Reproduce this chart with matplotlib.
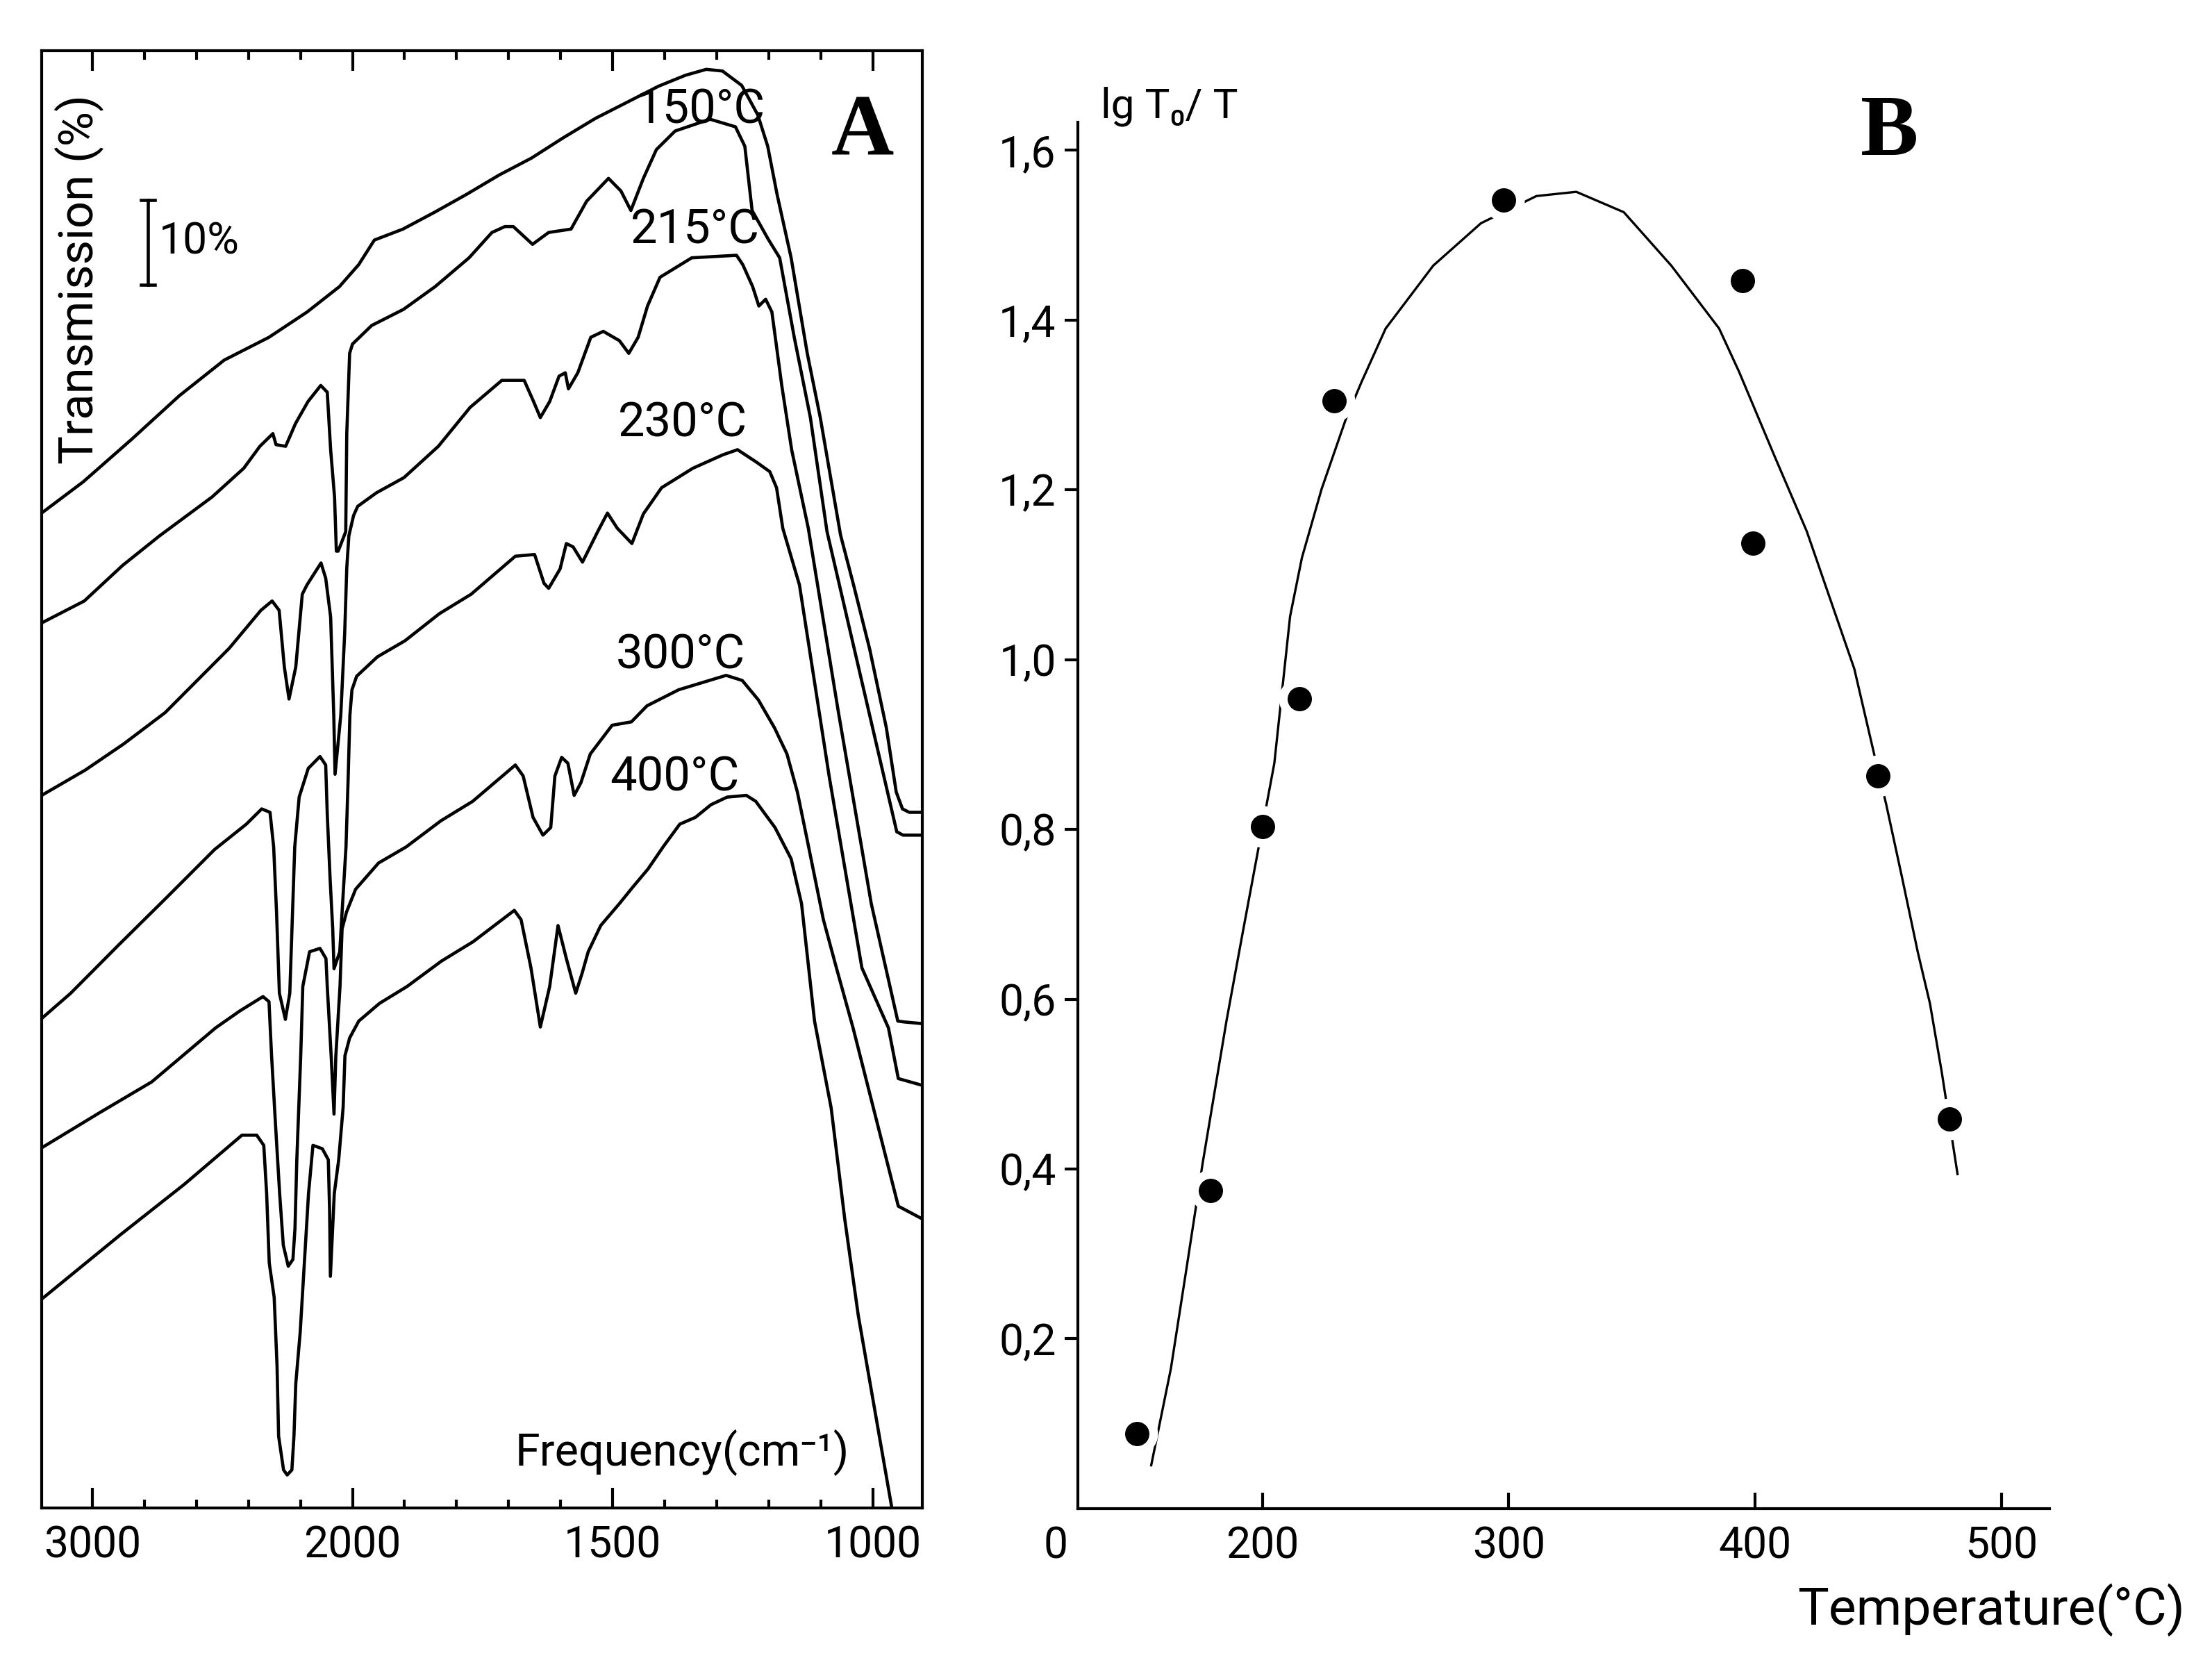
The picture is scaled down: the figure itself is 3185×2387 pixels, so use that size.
import numpy as np
import matplotlib
matplotlib.use("Agg")
import matplotlib.pyplot as plt
from matplotlib.ticker import FixedLocator, FuncFormatter

# ---------------- Panel A: IR spectra (wavenumber cm-1, transmission % incl. offsets) ----------------
nu_ref = [3195, 3035, 2850, 2665, 2493, 2321, 2174, 2050, 1988, 1958, 1903, 1842, 1781, 1718,
          1656, 1595, 1533, 1466, 1412, 1360, 1320, 1289, 1252, 1221, 1202, 1184, 1157, 1126,
          1101, 1062, 1037, 1006, 974, 955, 943, 930, 905]
tr_ref = [117.7, 121.4, 126.4, 131.6, 135.8, 138.5, 141.5, 144.5, 147.1, 150.0, 151.3, 153.3,
          155.4, 157.7, 159.7, 162.1, 164.4, 166.5, 168.2, 169.5, 170.2, 170.0, 168.3, 164.8,
          161.1, 155.4, 147.9, 136.6, 129.0, 115.1, 109.2, 101.6, 92.3, 84.7, 82.7, 82.3, 82.3]

nu_150 = [3195, 3031, 2884, 2742, 2540, 2418, 2356, 2306, 2294, 2257, 2219, 2171, 2122, 2097,
          2084, 2069, 2062, 2055, 2026, 2022, 2011, 2000, 1963, 1902, 1841, 1776, 1732, 1707,
          1691, 1654, 1623, 1580, 1550, 1508, 1484, 1465, 1441, 1416, 1380, 1313, 1264, 1246,
          1232, 1201, 1179, 1151, 1120, 1088, 954, 942, 905]
tr_150 = [104.7, 107.3, 111.5, 115.0, 119.6, 123.0, 125.6, 127.1, 125.8, 125.6, 128.3, 130.9,
          132.8, 132.0, 125.2, 119.6, 113.2, 113.2, 115.5, 127.1, 136.6, 137.7, 139.9, 141.8,
          144.5, 147.9, 150.9, 151.6, 151.6, 149.5, 150.9, 151.3, 154.6, 157.3, 155.8, 153.5,
          157.3, 160.7, 162.9, 164.3, 163.4, 161.1, 153.5, 150.1, 147.9, 138.5, 129.0, 115.5,
          80.0, 79.6, 79.6]

nu_215 = [3195, 3027, 2879, 2720, 2597, 2474, 2352, 2309, 2282, 2262, 2244, 2218, 2193, 2175,
          2121, 2103, 2084, 2072, 2067, 2045, 2030, 2022, 2014, 1998, 1990, 1954, 1901, 1835,
          1774, 1713, 1670, 1652, 1639, 1621, 1603, 1591, 1585, 1567, 1542, 1518, 1487, 1469,
          1451, 1433, 1409, 1348, 1262, 1250, 1231, 1219, 1206, 1194, 1175, 1156, 1124, 1066,
          1003, 952, 940, 905]
tr_215 = [84.3, 87.3, 90.4, 94.1, 97.9, 101.7, 106.2, 107.3, 106.2, 99.5, 95.7, 99.5, 108.1,
          109.2, 111.8, 110.0, 105.4, 93.8, 86.8, 93.8, 103.5, 111.2, 115.0, 117.4, 118.5,
          120.1, 121.9, 125.6, 130.2, 133.4, 133.4, 130.9, 129.0, 130.9, 133.9, 134.3, 132.4,
          134.3, 138.5, 139.2, 138.1, 136.6, 138.5, 142.2, 145.6, 147.9, 148.2, 147.1, 144.5,
          142.2, 143.0, 141.5, 132.8, 125.2, 115.9, 94.1, 71.5, 57.6, 57.5, 57.3]

nu_230 = [3195, 3083, 2899, 2715, 2530, 2408, 2349, 2317, 2303, 2292, 2281, 2258, 2241, 2222,
          2205, 2170, 2125, 2103, 2097, 2086, 2076, 2071, 2049, 2040, 2025, 2017, 2010, 2002,
          1992, 1952, 1899, 1833, 1772, 1687, 1650, 1632, 1623, 1601, 1589, 1576, 1558, 1528,
          1510, 1491, 1463, 1441, 1406, 1346, 1288, 1260, 1223, 1198, 1185, 1173, 1141, 1084,
          1021, 970, 951, 905]
tr_230 = [57.9, 60.9, 66.6, 72.2, 77.9, 80.9, 82.7, 82.3, 78.2, 70.5, 60.9, 57.8, 60.9, 78.2,
          84.1, 87.5, 88.9, 87.9, 82.1, 74.4, 68.5, 63.8, 65.8, 70.5, 78.2, 86.0, 93.8, 96.8,
          98.4, 100.7, 102.6, 105.8, 108.1, 112.6, 112.8, 109.4, 108.8, 111.1, 114.1, 113.7,
          111.9, 115.6, 117.7, 115.9, 114.1, 117.6, 120.7, 123.0, 124.6, 125.2, 123.7, 122.6,
          120.7, 115.9, 109.2, 86.6, 63.9, 56.8, 50.8, 50.0]

nu_300 = [3195, 2970, 2772, 2526, 2433, 2344, 2321, 2311, 2296, 2280, 2266, 2247, 2229, 2221,
          2214, 2199, 2191, 2165, 2125, 2102, 2097, 2082, 2071, 2064, 2048, 2040, 2023, 1994,
          1950, 1897, 1830, 1769, 1687, 1672, 1653, 1634, 1619, 1611, 1598, 1586, 1574, 1561,
          1543, 1501, 1464, 1434, 1373, 1282, 1251, 1220, 1189, 1165, 1145, 1126, 1095, 1070,
          1038, 951, 905]
tr_300 = [42.6, 46.8, 50.4, 56.8, 58.8, 60.5, 59.9, 53.5, 45.4, 37.2, 31.1, 28.6, 29.4, 33.1,
          41.2, 53.5, 61.7, 65.8, 66.2, 65.0, 61.7, 53.5, 46.6, 53.5, 61.7, 68.5, 70.5, 73.2,
          76.3, 78.2, 81.3, 83.6, 87.9, 86.6, 81.7, 79.6, 80.5, 86.6, 88.8, 88.1, 84.3, 85.8,
          89.2, 92.6, 93.0, 94.9, 96.8, 98.5, 97.9, 95.6, 92.3, 89.2, 84.7, 79.0, 69.6, 63.9,
          56.8, 35.7, 34.2]

nu_400 = [3195, 2893, 2646, 2425, 2368, 2341, 2330, 2320, 2301, 2290, 2284, 2265, 2251, 2233,
          2225, 2218, 2201, 2185, 2169, 2152, 2116, 2093, 2088, 2085, 2070, 2053, 2036, 2029,
          2011, 1988, 1948, 1895, 1829, 1768, 1689, 1676, 1657, 1639, 1621, 1605, 1589, 1571,
          1559, 1547, 1523, 1487, 1462, 1432, 1402, 1371, 1341, 1311, 1280, 1243, 1225, 1188,
          1157, 1137, 1112, 1080, 1054, 1028, 996, 964]
tr_400 = [24.7, 32.3, 38.3, 44.1, 44.1, 42.9, 37.2, 29.0, 24.9, 16.8, 8.5, 4.5, 3.9, 4.5, 8.5,
          14.7, 20.8, 29.0, 37.2, 42.9, 42.5, 41.2, 35.2, 27.4, 37.2, 41.2, 47.4, 53.5, 55.6,
          57.6, 59.7, 61.7, 64.7, 67.0, 70.7, 69.6, 63.9, 56.9, 61.7, 68.9, 65.0, 60.9, 63.2,
          65.8, 68.9, 71.5, 73.4, 75.6, 78.3, 80.9, 81.7, 83.2, 84.1, 84.3, 83.6, 80.5, 76.8,
          71.5, 57.6, 47.3, 34.2, 22.8, 11.5, 0.2]

spectra_labels = ["150°C", "215°C", "230°C", "300°C", "400°C"]
label_nu = [1331, 1342, 1365, 1370, 1381]
label_tr = [165.4, 151.2, 128.3, 100.9, 86.4]

freq_major = [3000, 2000, 1500, 1000]
freq_minor = [2800, 2600, 2400, 2200, 1900, 1800, 1700, 1600, 1400, 1300, 1200, 1100]

# ---------------- Panel B: lg T0/T versus temperature ----------------
temp_pts = [149, 179, 200, 215, 229, 298, 395, 399, 450, 479]
lg_pts = [0.088, 0.375, 0.803, 0.954, 1.305, 1.541, 1.446, 1.137, 0.863, 0.459]

temp_curve = [154.8, 162.8, 169.3, 175.7, 185.4, 191.8, 198.3, 204.8, 211.2, 216, 224, 233.8,
              240.2, 250, 269.3, 288.7, 311.2, 327.4, 346.7, 366, 385.4, 393.5, 408, 421,
              440.3, 448.4, 453.2, 459.7, 466.1, 471, 475.8, 482.2]
lg_curve = [0.051, 0.165, 0.286, 0.407, 0.575, 0.676, 0.777, 0.878, 1.051, 1.12, 1.201, 1.283,
            1.327, 1.39, 1.464, 1.514, 1.546, 1.551, 1.527, 1.464, 1.39, 1.339, 1.239, 1.151,
            0.989, 0.888, 0.830, 0.743, 0.655, 0.595, 0.514, 0.394]

temp_ticks = [200, 300, 400, 500]
lg_ticks = [0.2, 0.4, 0.6, 0.8, 1.0, 1.2, 1.4, 1.6]

# ---------------- Figure ----------------
SANS = ["Roboto", "DejaVu Sans"]
SERIF = ["Liberation Serif", "DejaVu Serif"]
plt.rcParams["font.family"] = SANS

TICK_FS = 15
fig = plt.figure(figsize=(3186 / 300, 2387 / 300), dpi=300)

# ----- Panel A -----
axA = fig.add_axes([0.0188, 0.0905, 0.398, 0.8789])


def fwd(x):
    x = np.asarray(x, dtype=float)
    return np.where(x <= 2000, x, 2000 + (x - 2000) / 2.0)


def inv(u):
    u = np.asarray(u, dtype=float)
    return np.where(u <= 2000, u, 2000 + (u - 2000) * 2.0)


axA.set_xscale("function", functions=(fwd, inv))
axA.set_xlim(3195, 905)
axA.set_ylim(0, 172.4)

for nu, tr in [(nu_ref, tr_ref), (nu_150, tr_150), (nu_215, tr_215),
               (nu_230, tr_230), (nu_300, tr_300), (nu_400, tr_400)]:
    axA.plot(nu, tr, color="black", lw=1.1, solid_joinstyle="round", solid_capstyle="round")

for lab, x, y in zip(spectra_labels, label_nu, label_tr):
    axA.text(x, y, lab, ha="center", va="center", fontsize=16.5)

axA.xaxis.set_major_locator(FixedLocator(freq_major))
axA.xaxis.set_minor_locator(FixedLocator(freq_minor))
axA.xaxis.set_major_formatter(FuncFormatter(lambda v, p: f"{int(round(v))}"))
axA.xaxis.set_minor_formatter(FuncFormatter(lambda v, p: ""))
axA.tick_params(axis="x", which="both", direction="in", top=True, bottom=True, width=1.0)
axA.tick_params(axis="x", which="major", length=7, labelsize=TICK_FS, pad=6)
axA.tick_params(axis="x", which="minor", length=3)
axA.set_yticks([])
for s in axA.spines.values():
    s.set_linewidth(1.0)

# 10 % scale bar
bar_nu, bar_lo, bar_hi = 2787, 144.7, 154.7
axA.plot([bar_nu, bar_nu], [bar_lo, bar_hi], color="black", lw=1.1)
axA.plot([bar_nu - 27, bar_nu + 27], [bar_hi, bar_hi], color="black", lw=1.1)
axA.plot([bar_nu - 27, bar_nu + 27], [bar_lo, bar_lo], color="black", lw=1.1)
axA.text(2744, 149.8, "10%", ha="left", va="center", fontsize=15)

axA.text(0.0426, 0.843, "Transmission (%)", rotation=90, ha="center", va="center",
         fontsize=16.5, transform=axA.transAxes)
axA.text(1366, 6.5, "Frequency(cm⁻¹)", ha="center", va="center", fontsize=15.5)
axA.text(0.932, 0.943, "A", ha="center", va="center", fontsize=30, fontweight="bold",
         family=SERIF, transform=axA.transAxes)

# ----- Panel B -----
axB = fig.add_axes([0.4871, 0.0901, 0.4391, 0.8362])
axB.set_xlim(125, 519.5)
axB.set_ylim(0, 1.633)
axB.plot(temp_curve, lg_curve, color="black", lw=0.8, zorder=2)
axB.plot(temp_pts, lg_pts, "o", ms=11.4, mfc="black", mec="white", mew=3, zorder=3)

axB.spines["top"].set_visible(False)
axB.spines["right"].set_visible(False)
axB.spines["left"].set_linewidth(1.0)
axB.spines["bottom"].set_linewidth(1.0)
axB.set_xticks(temp_ticks)
axB.set_xticklabels([str(t) for t in temp_ticks])
axB.set_yticks(lg_ticks)
axB.set_yticklabels([f"{v:.1f}".replace(".", ",") for v in lg_ticks])
axB.tick_params(axis="x", direction="in", length=5.5, width=1.0, labelsize=TICK_FS, pad=6)
axB.tick_params(axis="y", direction="out", length=4.5, width=1.0, labelsize=TICK_FS, pad=3)
axB.annotate("0", xy=(-0.0229, 0), xycoords="axes fraction", xytext=(0, -6),
             textcoords="offset points", ha="center", va="top", fontsize=TICK_FS)

fig.text(0.4975, 0.936, "lg T₀/ T", ha="left", va="center", fontsize=14.5)
fig.text(0.9874, 0.0289, "Temperature(°C)", ha="right", va="center", fontsize=18)
fig.text(0.854, 0.919, "B", ha="center", va="center", fontsize=30, fontweight="bold",
         family=SERIF)

fig.savefig("out.png", dpi=300, facecolor="white")
